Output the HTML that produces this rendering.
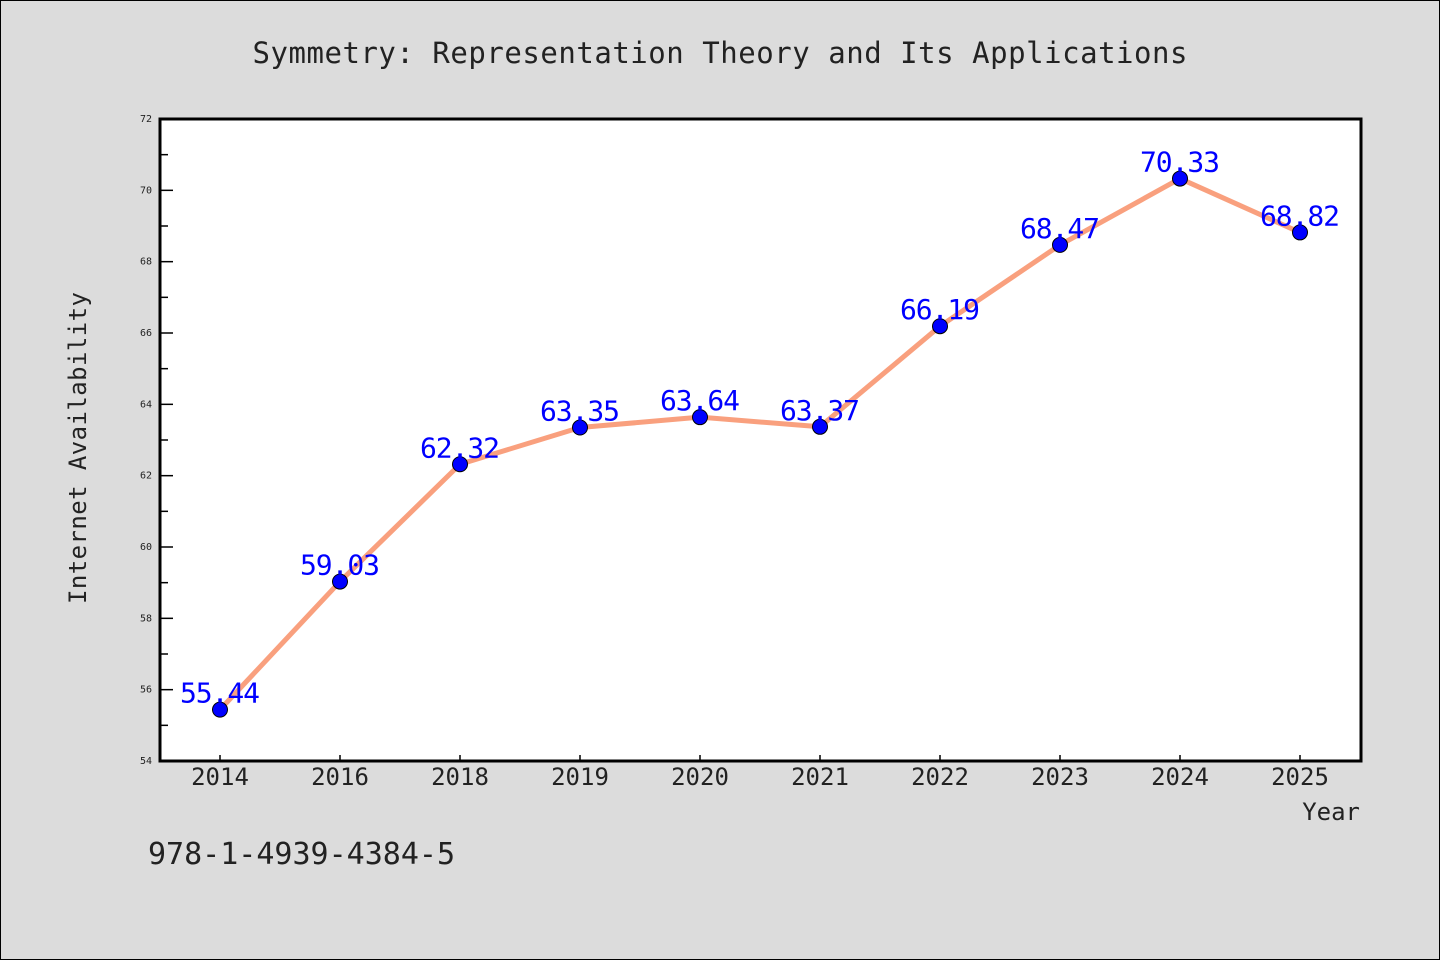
<!DOCTYPE html>
<html><head><meta charset="utf-8"><style>
body{margin:0;background:#dcdcdc;}
svg{display:block;font-family:"WenQuanYi Zen Hei Mono","WenQuanYi Zen Hei","DejaVu Sans Mono","Liberation Mono",monospace;}
</style></head><body>
<svg width="1440" height="960">
<rect x="0.5" y="0.5" width="1439" height="959" fill="#dcdcdc" stroke="#000"/>
<text x="720" y="63" font-size="29" text-anchor="middle" fill="#222" textLength="935">Symmetry: Representation Theory and Its Applications</text>
<rect x="160" y="119" width="1201" height="642" fill="#fff"/>
<g id="yaxis"></g>
<g id="xaxis"></g>
<g id="series"></g>
<rect x="160" y="119" width="1201" height="642" fill="none" stroke="#000" stroke-width="3"/>
<text x="86" y="448" font-size="24" text-anchor="middle" fill="#222" textLength="312" transform="rotate(-90 86 448)">Internet Availability</text>
<text x="1360" y="820" font-size="24" text-anchor="end" fill="#222">Year</text>
<text x="148" y="864" font-size="30" fill="#222" textLength="307">978-1-4939-4384-5</text>
</svg>
<script>
const categories=["2014","2016","2018","2019","2020","2021","2022","2023","2024","2025"];
const values=[55.44,59.03,62.32,63.35,63.64,63.37,66.19,68.47,70.33,68.82];
const yTicks=[54,56,58,60,62,64,66,68,70,72];
const NS="http://www.w3.org/2000/svg";
const L=160,R=1361,T=119,B=761,yMin=54,yMax=72;
function ys(v){return B-(v-yMin)/(yMax-yMin)*(B-T);}
function xs(i){return 220+i*(1300-220)/(categories.length-1);}
function mk(tag,attrs,parent){const e=document.createElementNS(NS,tag);for(const k in attrs)e.setAttribute(k,attrs[k]);parent.appendChild(e);return e;}
const ya=document.getElementById('yaxis'),xa=document.getElementById('xaxis'),se=document.getElementById('series');
yTicks.forEach((t,i)=>{
  const y=ys(t);
  const ln=mk('line',{x1:L,x2:L+13,y1:y,y2:y,stroke:'#000','stroke-width':1.5},ya);
  
  
  const tx=mk('text',{x:152,y:y+3,'font-size':10,'text-anchor':'end',fill:'#222'},ya);
  tx.textContent=t;
  
  
  if(i<yTicks.length-1){
    const ym=ys(t+1);
    const mn=mk('line',{x1:L,x2:L+8,y1:ym,y2:ym,stroke:'#000','stroke-width':1.5},ya);
    
    
  }
});
categories.forEach((c,i)=>{
  const x=xs(i);
  const ln=mk('line',{x1:x,x2:x,y1:B-6,y2:B,stroke:'#000','stroke-width':1.5},xa);
  
  
  const tx=mk('text',{x:x,y:785,'font-size':24,'text-anchor':'middle',fill:'#222'},xa);
  tx.textContent=c;
  
  
});
const pts=values.map((v,i)=>xs(i)+','+ys(v)).join(' ');
const pl=mk('polyline',{points:pts,fill:'none',stroke:'#f9a07e','stroke-width':5,'stroke-linejoin':'round'},se);


values.forEach((v,i)=>{
  const c=mk('circle',{cx:xs(i),cy:ys(v),r:7.5,fill:'#0000ff',stroke:'#000','stroke-width':1},se);
  
  
});
values.forEach((v,i)=>{
  const t=mk('text',{x:xs(i),y:ys(v)-7,'font-size':28,'text-anchor':'middle',fill:'#0000ff',textLength:80},se);
  t.textContent=v.toFixed(2);
  
  
});
</script>
</body></html>
